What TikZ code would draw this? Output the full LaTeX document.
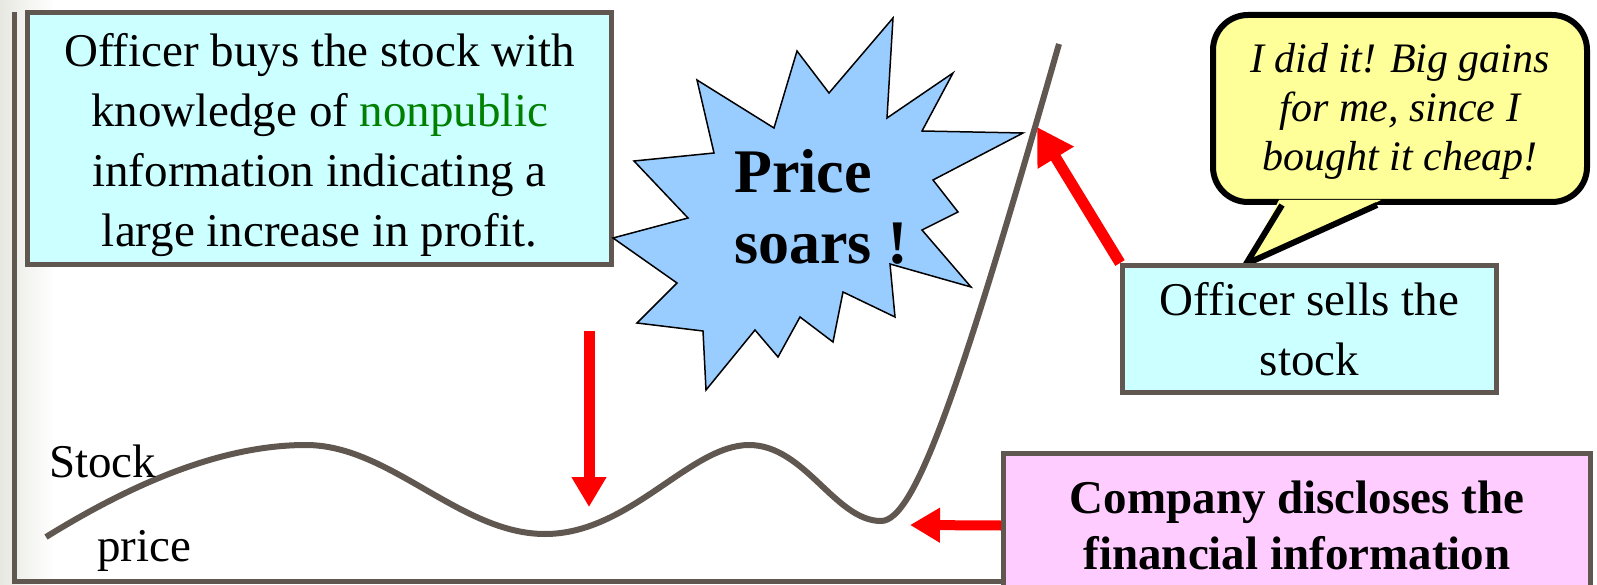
\documentclass[tikz,border=0pt]{standalone}
\usepackage{fontspec}
\setmainfont{Liberation Serif}
\usetikzlibrary{arrows.meta}
\definecolor{framecol}{RGB}{96,88,80}
\definecolor{boxcyan}{RGB}{204,255,255}
\definecolor{boxpink}{RGB}{255,204,255}
\definecolor{bubbleyellow}{RGB}{255,255,153}
\definecolor{starblue}{RGB}{153,204,255}
\definecolor{textgreen}{RGB}{0,128,0}
\definecolor{leftgray}{RGB}{232,232,226}
\begin{document}
\begin{tikzpicture}[x=1pt,y=-1pt,
  infobox/.style={draw=framecol, line width=5pt, fill=boxcyan, align=center, inner sep=0pt,
    font=\fontsize{47}{60}\selectfont},
  pinkbox/.style={draw=framecol, line width=5pt, fill=boxpink, align=center, inner sep=0pt,
    font=\fontsize{47}{56}\selectfont\bfseries},
  bubblebox/.style={draw=black, line width=6pt, fill=bubbleyellow, rounded corners=35pt,
    align=center, inner sep=0pt, font=\fontsize{42}{49}\selectfont\itshape},
  starshape/.style={draw=black, line width=1.5pt, fill=starblue, line join=miter},
  pricecurve/.style={draw=framecol, line width=6pt},
  framerule/.style={draw=framecol, line width=5pt},
  redarrow/.style={draw=red, line width=11pt, -{Triangle[length=30pt,width=33pt]}},
  plainlabel/.style={inner sep=0pt, font=\fontsize{47}{56}\selectfont}
]
\useasboundingbox (0,0) rectangle (1597,585);
\fill[white] (0,0) rectangle (1597,585);
\shade[left color=leftgray, right color=white] (0,0) rectangle (55,585);

% frame
\draw[framerule] (14,12) -- (14,581) -- (1001,581);

% top-left box
\node[infobox, minimum width=584pt, minimum height=252pt] (buy) at (319.5,138.5)
  {\rule{0pt}{46pt}Officer buys the stock with\\knowledge of \textcolor{textgreen}{nonpublic}\\information indicating a\\large increase in profit.};

% starburst
\draw[starshape] (613,238) -- (688,218) -- (634,161) -- (714,153) -- (697,80) -- (774,128)
  -- (797,51) -- (829,93) -- (893,18) -- (887,118) -- (953,73) -- (922,131) -- (1023,133)
  -- (933,180) -- (958,212) -- (922,230) -- (971,287) -- (890,264) -- (895,317) -- (843,292)
  -- (833,342) -- (800,317) -- (778,357) -- (755,330) -- (706,390) -- (703,331) -- (637,323)
  -- (677,283) -- cycle;
\node[inner sep=0pt, align=left, anchor=north west, font=\fontsize{62}{71}\selectfont\bfseries]
  (soar) at (734,149) {Price\\soars !};

% speech bubble
\node[bubblebox, minimum width=374pt, minimum height=187pt] (say) at (1400,108.5)
  {\rule{0pt}{34pt}I did it! Big gains\\for me, since I\\bought it cheap!};
\fill[bubbleyellow] (1279,200) -- (1246,264) -- (1381,200) -- cycle;
\draw[black, line width=6pt, line join=miter] (1282,205) -- (1246,264) -- (1377,205);

% sells box
\node[infobox, minimum width=374pt, minimum height=127pt] (sells) at (1309.5,329)
  {Officer sells the\\stock};

% company box
\node[pinkbox, minimum width=587pt, minimum height=144pt] (company) at (1297,525.5)
  {Company discloses the\\financial information};

% stock price curve
\draw[pricecurve] (46,537) .. controls (130,485) and (220,445) .. (306,445)
  .. controls (390,445) and (460,534) .. (545,534)
  .. controls (630,534) and (690,445) .. (749,445)
  .. controls (805,445) and (835,521) .. (881,521)
  .. controls (915,521) and (960,390) .. (1059,44);

\node[plainlabel, anchor=base west] (stock) at (49,477) {Stock};
\node[plainlabel, anchor=base west] (price) at (97,561) {price};

% red arrows
\coordinate (buystart) at (589,331);
\coordinate (buypoint) at (589,507);
\coordinate (sellpoint) at (1037,127);
\coordinate (disclosepoint) at (910,525);
\draw[redarrow] (buystart) -- (buypoint);
\draw[redarrow, -{Triangle[length=36pt,width=40pt]}] (sells.north west) -- (sellpoint);
\draw[redarrow, line width=10pt] (company.west) -- (disclosepoint);
\end{tikzpicture}
\end{document}
